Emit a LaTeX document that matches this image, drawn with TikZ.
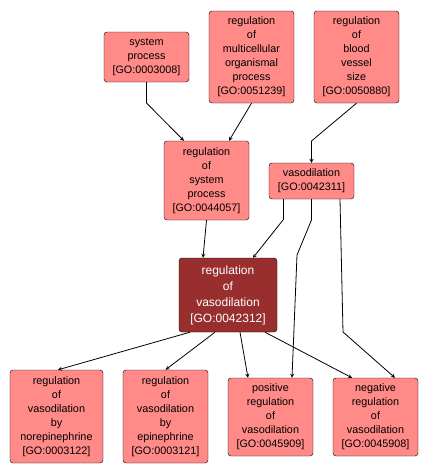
\documentclass[tikz,border=0pt]{standalone}
\usepackage{fontspec}
\setmainfont{Liberation Sans}
\usepackage{tikz}
\usetikzlibrary{arrows, shapes, positioning}
\definecolor{termfill}{HTML}{FF8A87}
\definecolor{focusfill}{HTML}{982E2E}
\tikzstyle{term} = [rectangle, rounded corners=3pt, draw=black, fill=termfill, align=center, inner sep=0,
                    minimum width=85pt, font=\fontsize{10.8}{14}\selectfont]
\tikzstyle{focus} = [term, fill=focusfill, text=white, font=\fontsize{12}{16}\selectfont]
\tikzstyle{link} = [-stealth, line width=0.8pt]

\begin{document}
\begin{tikzpicture}[x=1pt, y=-1pt]
				\useasboundingbox (0, 0) rectangle (428, 475);

				% top row
				\node (SysProc) [term, minimum height=50pt] at (146.5, 57) {system\\process\\{}[GO:0003008]};
				\node (MultiProc) [term, minimum height=92pt] at (251.5, 57) {regulation\\of\\multicellular\\organismal\\process\\{}[GO:0051239]};
				\node (BloodSize) [term, minimum height=92pt] at (356.5, 57) {regulation\\of\\blood\\vessel\\size\\{}[GO:0050880]};

				% middle
				\node (RegSys) [term, minimum height=79pt] at (206.5, 180.5) {regulation\\of\\system\\process\\{}[GO:0044057]};
				\node (Vaso) [term, minimum height=36pt] at (311.5, 181) {vasodilation\\{}[GO:0042311]};
				\node (RegVaso) [focus, minimum width=98pt, minimum height=74pt] at (228, 295) {regulation\\of\\vasodilation\\{}[GO:0042312]};

				% bottom row
				\node (NoreReg) [term, minimum width=93pt, minimum height=93pt] at (56.5, 416.5) {regulation\\of\\vasodilation\\by\\norepinephrine\\{}[GO:0003122]};
				\node (EpiReg) [term, minimum height=93pt] at (165.5, 416.5) {regulation\\of\\vasodilation\\by\\epinephrine\\{}[GO:0003121]};
				\node (PosReg) [term, minimum height=78pt] at (270.5, 417) {positive\\regulation\\of\\vasodilation\\{}[GO:0045909]};
				\node (NegReg) [term, minimum height=78pt] at (375.5, 417) {negative\\regulation\\of\\vasodilation\\{}[GO:0045908]};

				% into regulation of system process
				\coordinate (SysBend) at (146.5, 103);
				\draw [line width=0.8pt] (SysProc.south) -- (SysBend);
				\draw [link] (SysBend) -- ([xshift=-22.5pt]RegSys.north);
				\draw [link] (MultiProc.south) -- ([xshift=22.5pt]RegSys.north);

				% into vasodilation
				\coordinate (BloodBend) at (311.5, 141);
				\draw [line width=0.8pt] (BloodSize.south) -- (BloodBend);
				\draw [link] (BloodBend) -- (Vaso.north);

				% into regulation of vasodilation
				\draw [link] (RegSys.south) -- ([xshift=-25pt]RegVaso.north);
				\coordinate (VasoBendA) at (283, 220);
				\draw [line width=0.8pt] ([xshift=-28.5pt]Vaso.south) -- (VasoBendA);
				\draw [link] (VasoBendA) -- ([xshift=25pt]RegVaso.north);

				% vasodilation down to positive / negative
				\coordinate (VasoBendB) at (311.5, 220);
				\coordinate (VasoBendC) at (297, 255);
				\draw [line width=0.8pt] (Vaso.south) -- (VasoBendB) -- (VasoBendC);
				\draw [link] (VasoBendC) -- ([xshift=21.5pt]PosReg.north);
				\coordinate (VasoBendD) at (343, 332);
				\draw [line width=0.8pt] ([xshift=28.5pt]Vaso.south) -- (VasoBendD);
				\draw [link] (VasoBendD) -- ([xshift=19.5pt]NegReg.north);

				% regulation of vasodilation down
				\draw [link] ([xshift=-38pt]RegVaso.south) -- ([xshift=1.5pt]NoreReg.north);
				\draw [link] ([xshift=-13pt]RegVaso.south) -- (EpiReg.north);
				\draw [link] ([xshift=12pt]RegVaso.south) -- ([xshift=-22.5pt]PosReg.north);
				\draw [link] ([xshift=37pt]RegVaso.south) -- ([xshift=-23.5pt]NegReg.north);
			\end{tikzpicture}
\end{document}
